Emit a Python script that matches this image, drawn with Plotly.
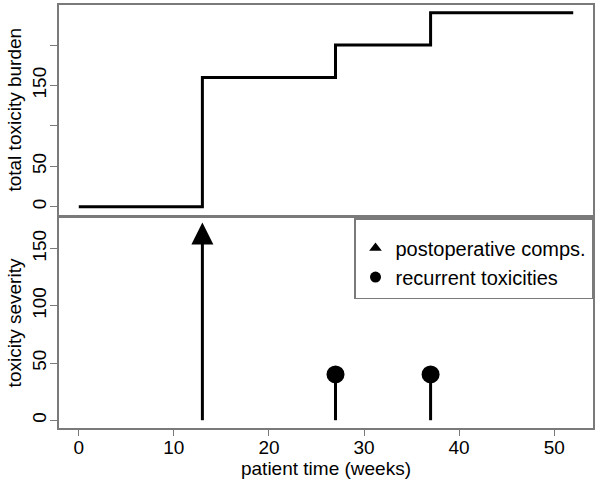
import plotly.graph_objects as go

# burden curve (cumulative)
burden_weeks = [0, 13, 27, 37, 52]
burden_total = [0, 160, 200, 240, 240]

# individual events
postop_weeks = [13]
postop_severity = [160]
recur_weeks = [27, 37]
recur_severity = [40, 40]

top_ticks = [0, 50, 100, 150, 200]
top_ticktext = ["0", "50", "", "150", ""]
bottom_ticks = [0, 50, 100, 150]
x_ticks = [0, 10, 20, 30, 40, 50]

FONT = "Liberation Sans, Arial, sans-serif"
GRAY = "#7a7a7a"
W, H = 600, 485


def px_x(px):
    return px / W


def px_y(px):
    return 1 - px / H


def stems(xs, ys):
    sx, sy = [], []
    for x, y in zip(xs, ys):
        sx += [x, x, None]
        sy += [0, y, None]
    return sx, sy


fig = go.Figure()

# top: step line
fig.add_trace(go.Scatter(
    x=burden_weeks, y=burden_total, mode="lines",
    line=dict(color="black", width=3, shape="hv"),
    xaxis="x", yaxis="y", showlegend=False
))

# bottom: stems
sx, sy = stems(postop_weeks + recur_weeks, postop_severity + recur_severity)
fig.add_trace(go.Scatter(
    x=sx, y=sy, mode="lines", line=dict(color="black", width=3),
    xaxis="x2", yaxis="y2", showlegend=False
))
# triangle head (arrow shape gives an equilateral-ish triangle)
tri_size = 22
fig.add_trace(go.Scatter(
    x=postop_weeks, y=postop_severity, mode="markers",
    marker=dict(symbol="arrow-down", angle=180, standoff=tri_size * 2 / 3,
                size=tri_size, color="black"),
    xaxis="x2", yaxis="y2", showlegend=False
))
fig.add_trace(go.Scatter(
    x=recur_weeks, y=recur_severity, mode="markers",
    marker=dict(symbol="circle", size=18, color="black"),
    xaxis="x2", yaxis="y2", showlegend=False
))

# legend entries
fig.add_trace(go.Scatter(
    x=[None], y=[None], mode="markers", name="postoperative comps.",
    marker=dict(symbol="triangle-up", size=11, color="black"),
    xaxis="x2", yaxis="y2"
))
fig.add_trace(go.Scatter(
    x=[None], y=[None], mode="markers", name="recurrent toxicities",
    marker=dict(symbol="circle", size=11, color="black"),
    xaxis="x2", yaxis="y2"
))

xdom = [px_x(59), px_x(593)]
axis_common = dict(showline=True, linecolor=GRAY, linewidth=1.5, mirror=True,
                   showgrid=False, zeroline=False,
                   tickfont=dict(size=19, color="black"))

fig.update_layout(
    width=W, height=H,
    margin=dict(l=0, r=0, t=0, b=0),
    paper_bgcolor="white", plot_bgcolor="white",
    font=dict(family=FONT, color="black"),
    xaxis=dict(domain=xdom, range=[-2.08, 54.08], anchor="y",
               showticklabels=False, ticks="", **axis_common),
    yaxis=dict(domain=[px_y(214.5), px_y(5)], range=[-9.6, 249.6],
               anchor="x", tickvals=top_ticks, ticktext=top_ticktext,
               ticks="outside", ticklen=7, tickcolor=GRAY, tickangle=-90,
               ticklabelstandoff=-3, automargin=True,
               title=dict(text="total toxicity burden", font=dict(size=19), standoff=2),
               **axis_common),
    xaxis2=dict(domain=xdom, range=[-2.08, 54.08], anchor="y2",
                tickvals=x_ticks, ticks="outside", ticklen=6, tickcolor=GRAY,
                ticklabelstandoff=-5,
                title=dict(text="patient time (weeks)", font=dict(size=19), standoff=2),
                **axis_common),
    yaxis2=dict(domain=[px_y(428), px_y(218)], range=[-6.8, 176.8],
                anchor="x2", tickvals=bottom_ticks,
                ticks="outside", ticklen=7, tickcolor=GRAY, tickangle=-90,
                ticklabelstandoff=-3, automargin=True,
                title=dict(text="toxicity severity", font=dict(size=19), standoff=2),
                **axis_common),
    legend=dict(x=px_x(593), xanchor="right", y=px_y(218), yanchor="top",
                bordercolor=GRAY, borderwidth=1.5, bgcolor="white",
                font=dict(size=20), itemsizing="trace",
                title=dict(text=" ", font=dict(size=7))),
)

# drop the default 8px body margin so the figure sits at the page corner
fig.write_html("out.html", config={"displayModeBar": False},
               post_script="document.body.style.margin='0px';")
